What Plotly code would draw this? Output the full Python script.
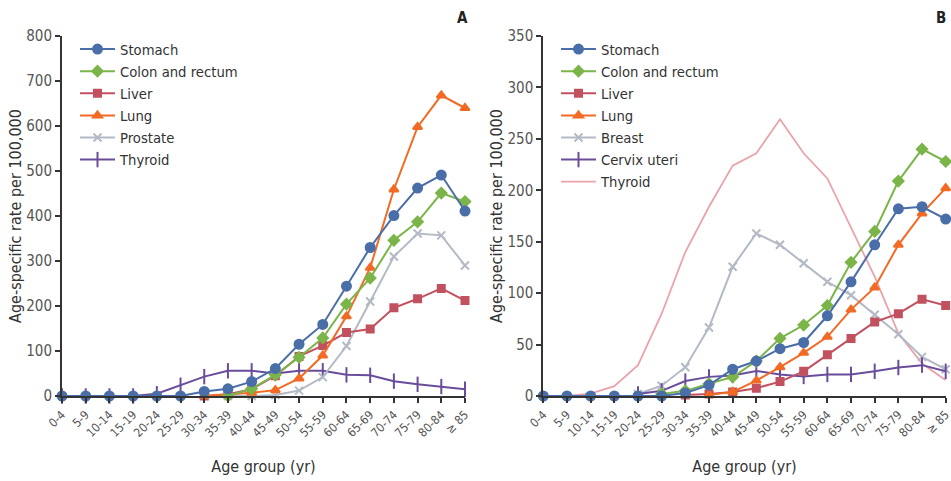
import plotly.graph_objects as go

age_groups = ['0-4', '5-9', '10-14', '15-19', '20-24', '25-29', '30-34', '35-39', '40-44',
              '45-49', '50-54', '55-59', '60-64', '65-69', '70-74', '75-79', '80-84', '≥ 85']

# Panel A (men)
stomach_a = [0, 0, 0, 0, 0, 0, 10, 16, 32, 61, 115, 159, 244, 330, 401, 462, 491, 411]
colon_a = [None]*7 + [0, 16, 47, 86, 129, 204, 262, 346, 387, 451, 432]
liver_a = [None]*6 + [0, 4, 15, 45, 88, 112, 141, 149, 196, 216, 239, 212]
lung_a = [None]*6 + [0, 4, 7, 13, 39, 90, 177, 285, 459, 598, 668, 640]
prostate_a = [None]*7 + [0, 0, 2, 12, 42, 111, 210, 310, 361, 357, 290]
thyroid_a = [0, 0, 0, 0, 5, 24, 43, 56, 56, 50, 56, 56, 47, 46, 33, 26, 21, 15]

# Panel B (women)
stomach_b = [0, 0, 0, 0, 0, 0, 3, 10.5, 26, 34, 46, 52, 78, 111, 147, 182, 184, 172]
colon_b = [None]*5 + [2, 5, 12, 18.5, 34, 56, 69, 88, 130, 160, 209, 240, 228]
liver_b = [None]*6 + [1, 2, 4, 7.6, 14, 24, 40, 56, 72, 80, 94, 88]
lung_b = [None]*7 + [1, 4, 15, 28, 42, 57.5, 84, 105.5, 147, 177.5, 202]
breast_b = [None]*4 + [2, 10, 28, 66.6, 125.6, 158, 147, 129, 111, 98, 79, 60, 38, 26]
cervix_b = [None]*4 + [2, 5, 14.5, 18.6, 20, 24.4, 21, 19, 21, 21, 24, 27.7, 30, 24]
thyroid_b = [0, 0, 2.4, 9.5, 30, 80, 140, 184, 224, 236, 269, 236, 211.5, 163, 116, 61, 31.6, 15.4]

FONT = "DejaVu Sans Condensed, Liberation Sans Narrow, Arial Narrow, sans-serif"

C_STOMACH = "#4a6ea8"
C_COLON = "#7bb54a"
C_LIVER = "#c2515f"
C_LUNG = "#f26a24"
C_GRAY = "#b3bac6"
C_PURPLE = "#6a4c9c"
C_PINK = "#eaa3aa"

fig = go.Figure()

def add(name, y, color, symbol, msize, xa, ya, legend, rank, mode="lines+markers", lw=2):
    marker = dict(symbol=symbol, size=msize, color=color,
                  line=dict(width=2, color=color)) if symbol else None
    fig.add_trace(go.Scatter(
        x=age_groups, y=y, name=name, mode=mode,
        line=dict(color=color, width=lw),
        marker=marker, xaxis=xa, yaxis=ya, legend=legend, legendrank=rank,
        cliponaxis=False, connectgaps=False))

# Panel A, drawn bottom to top
add("Thyroid", thyroid_a, C_PURPLE, "line-ns", 11, "x", "y", "legend", 6)
add("Prostate", prostate_a, C_GRAY, "x-thin", 8, "x", "y", "legend", 5)
add("Liver", liver_a, C_LIVER, "square", 7, "x", "y", "legend", 3)
add("Lung", lung_a, C_LUNG, "triangle-up", 8, "x", "y", "legend", 4)
add("Colon and rectum", colon_a, C_COLON, "diamond", 8, "x", "y", "legend", 2)
add("Stomach", stomach_a, C_STOMACH, "circle", 9, "x", "y", "legend", 1)

# Panel B
add("Thyroid", thyroid_b, C_PINK, None, 0, "x2", "y2", "legend2", 7, mode="lines", lw=1.8)
add("Breast", breast_b, C_GRAY, "x-thin", 8, "x2", "y2", "legend2", 5)
add("Cervix uteri", cervix_b, C_PURPLE, "line-ns", 11, "x2", "y2", "legend2", 6)
add("Liver", liver_b, C_LIVER, "square", 7, "x2", "y2", "legend2", 3)
add("Lung", lung_b, C_LUNG, "triangle-up", 8, "x2", "y2", "legend2", 4)
add("Colon and rectum", colon_b, C_COLON, "diamond", 8, "x2", "y2", "legend2", 2)
add("Stomach", stomach_b, C_STOMACH, "circle", 9, "x2", "y2", "legend2", 1)

W, H = 951, 481
ytop, ybot = 1 - 36 / H, 1 - 396 / H

xaxis_common = dict(
    type="category", range=[0, 17], showgrid=False, zeroline=False, automargin=False,
    showline=True, linecolor="#333333", linewidth=2,
    ticks="outside", ticklen=5, tickwidth=1.5, tickcolor="#333333",
    tickangle=-45, tickfont=dict(family=FONT, size=12, color="#555555"),
    title=dict(text="Age group (yr)", font=dict(family=FONT, size=16, color="#333333"), standoff=22),
)
yaxis_common = dict(
    showgrid=False, zeroline=False, showline=True, linecolor="#333333", linewidth=2,
    automargin=False,
    ticks="outside", ticklen=5, tickwidth=1.5, tickcolor="#333333",
    tickfont=dict(family=FONT, size=15, color="#555555"),
    title=dict(text="Age-specific rate per 100,000", font=dict(family=FONT, size=16, color="#333333"), standoff=1),
)

legend_common = dict(
    font=dict(family=FONT, size=14.7, color="#333333"),
    bgcolor="rgba(0,0,0,0)", xanchor="left", yanchor="top",
    tracegroupgap=0, itemwidth=35,
)

fig.update_layout(
    width=W, height=H,
    margin=dict(l=0, r=0, t=0, b=0, autoexpand=False),
    paper_bgcolor="white", plot_bgcolor="white",
    xaxis=dict(domain=[62 / W, 465 / W], anchor="y", **xaxis_common),
    yaxis=dict(domain=[ybot, ytop], anchor="x", range=[0, 800], dtick=100, **yaxis_common),
    xaxis2=dict(domain=[543.3 / W, 945.7 / W], anchor="y2", **xaxis_common),
    yaxis2=dict(domain=[ybot, ytop], anchor="x2", range=[0, 350], dtick=50, **yaxis_common),
    legend=dict(x=75 / W, y=1 - 33 / H, **legend_common),
    legend2=dict(x=556 / W, y=1 - 33 / H, **legend_common),
    annotations=[
        dict(text="<b>A</b>", x=462 / W, y=1 - 18 / H, xref="paper", yref="paper",
             xanchor="center", yanchor="middle",
             showarrow=False, font=dict(family=FONT, size=15, color="#222222")),
        dict(text="<b>B</b>", x=941 / W, y=1 - 18 / H, xref="paper", yref="paper",
             xanchor="center", yanchor="middle",
             showarrow=False, font=dict(family=FONT, size=15, color="#222222")),
    ],
)

fig.write_html("out.html", config={"displayModeBar": False},
               post_script="document.body.style.margin='0px';")
